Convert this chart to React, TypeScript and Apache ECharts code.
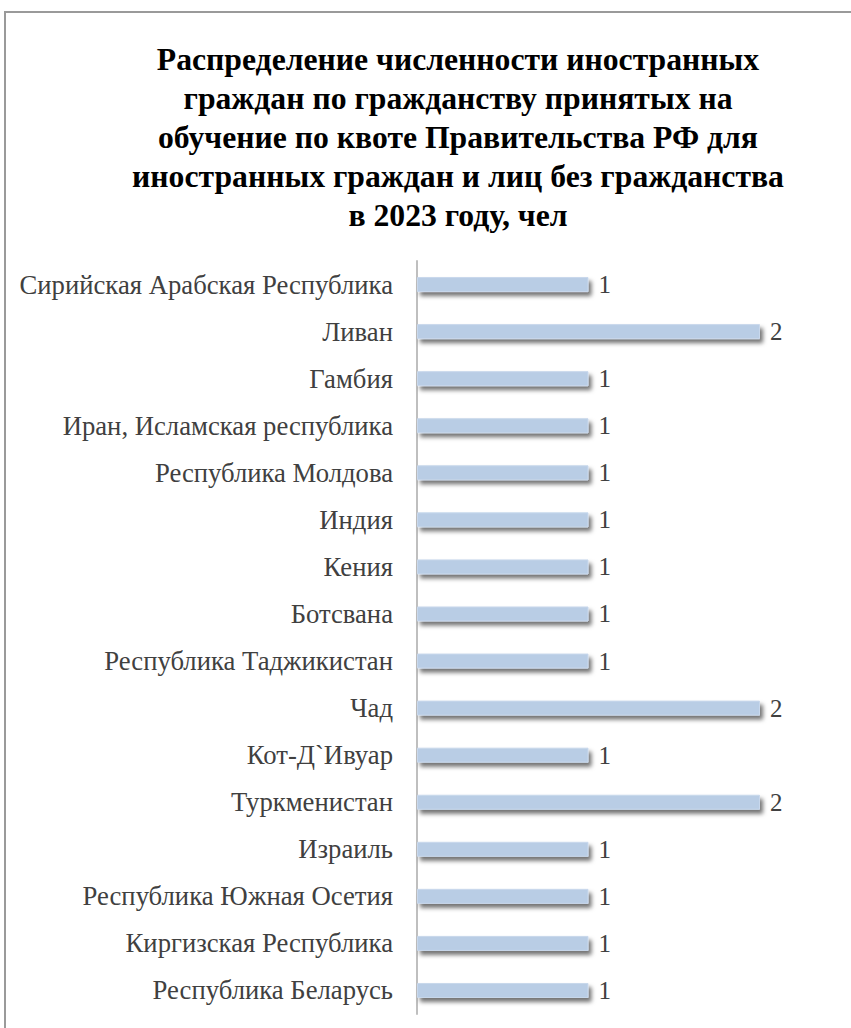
import React, { useEffect, useRef } from "react";
import * as echarts from "echarts";

const titleLines = [
  "Распределение численности иностранных",
  "граждан по гражданству принятых на",
  "обучение по квоте Правительства РФ для",
  "иностранных граждан и лиц без гражданства",
  "в 2023 году, чел",
];

const countries = [
  "Сирийская Арабская Республика",
  "Ливан",
  "Гамбия",
  "Иран, Исламская республика",
  "Республика Молдова",
  "Индия",
  "Кения",
  "Ботсвана",
  "Республика Таджикистан",
  "Чад",
  "Кот-Д`Ивуар",
  "Туркменистан",
  "Израиль",
  "Республика Южная Осетия",
  "Киргизская Республика",
  "Республика Беларусь",
];

const students = [1, 2, 1, 1, 1, 1, 1, 1, 1, 2, 1, 2, 1, 1, 1, 1];

const SERIF = "'Liberation Serif', 'Times New Roman', serif";

export default function App() {
  const ref = useRef<HTMLDivElement>(null);
  useEffect(() => {
    document.body.style.margin = "0";
    const chart = echarts.init(ref.current!, null, { renderer: "svg" });
    chart.setOption({
      animation: false,
      backgroundColor: "#ffffff",
      title: {
        text: titleLines.join("\n"),
        left: 453,
        textAlign: "center",
        top: 35,
        textStyle: {
          fontFamily: SERIF,
          fontWeight: "bold",
          fontSize: 31.7,
          lineHeight: 39,
          color: "#000000",
        },
      },
      graphic: [
        {
          type: "rect",
          shape: { x: 5, y: 12, width: 900, height: 1100 },
          style: { fill: "none", stroke: "#9a9a9a", lineWidth: 2 },
          silent: true,
        },
      ],
      grid: { left: 417, right: 91, top: 261, bottom: 14 },
      xAxis: {
        type: "value",
        min: 0,
        max: 2,
        show: false,
      },
      yAxis: {
        type: "category",
        data: countries,
        inverse: true,
        axisLine: { show: true, lineStyle: { color: "#bfbfbf", width: 2 } },
        axisTick: { show: false },
        axisLabel: {
          margin: 24,
          fontFamily: SERIF,
          fontSize: 26.7,
          color: "#404040",
        },
      },
      series: [
        {
          type: "bar",
          data: students,
          barWidth: 15,
          itemStyle: {
            color: "#b9cde5",
            borderColor: "#c9d8ec",
            borderWidth: 1,
            shadowColor: "rgba(0,0,0,0.55)",
            shadowBlur: 4,
            shadowOffsetX: 3,
            shadowOffsetY: 4,
          },
          label: {
            show: true,
            position: "right",
            distance: 10,
            fontFamily: SERIF,
            fontSize: 25,
            color: "#404040",
          },
        },
      ],
    });
    return () => chart.dispose();
  }, []);
  return <div ref={ref} style={{ width: 851, height: 1028 }} />;
}
